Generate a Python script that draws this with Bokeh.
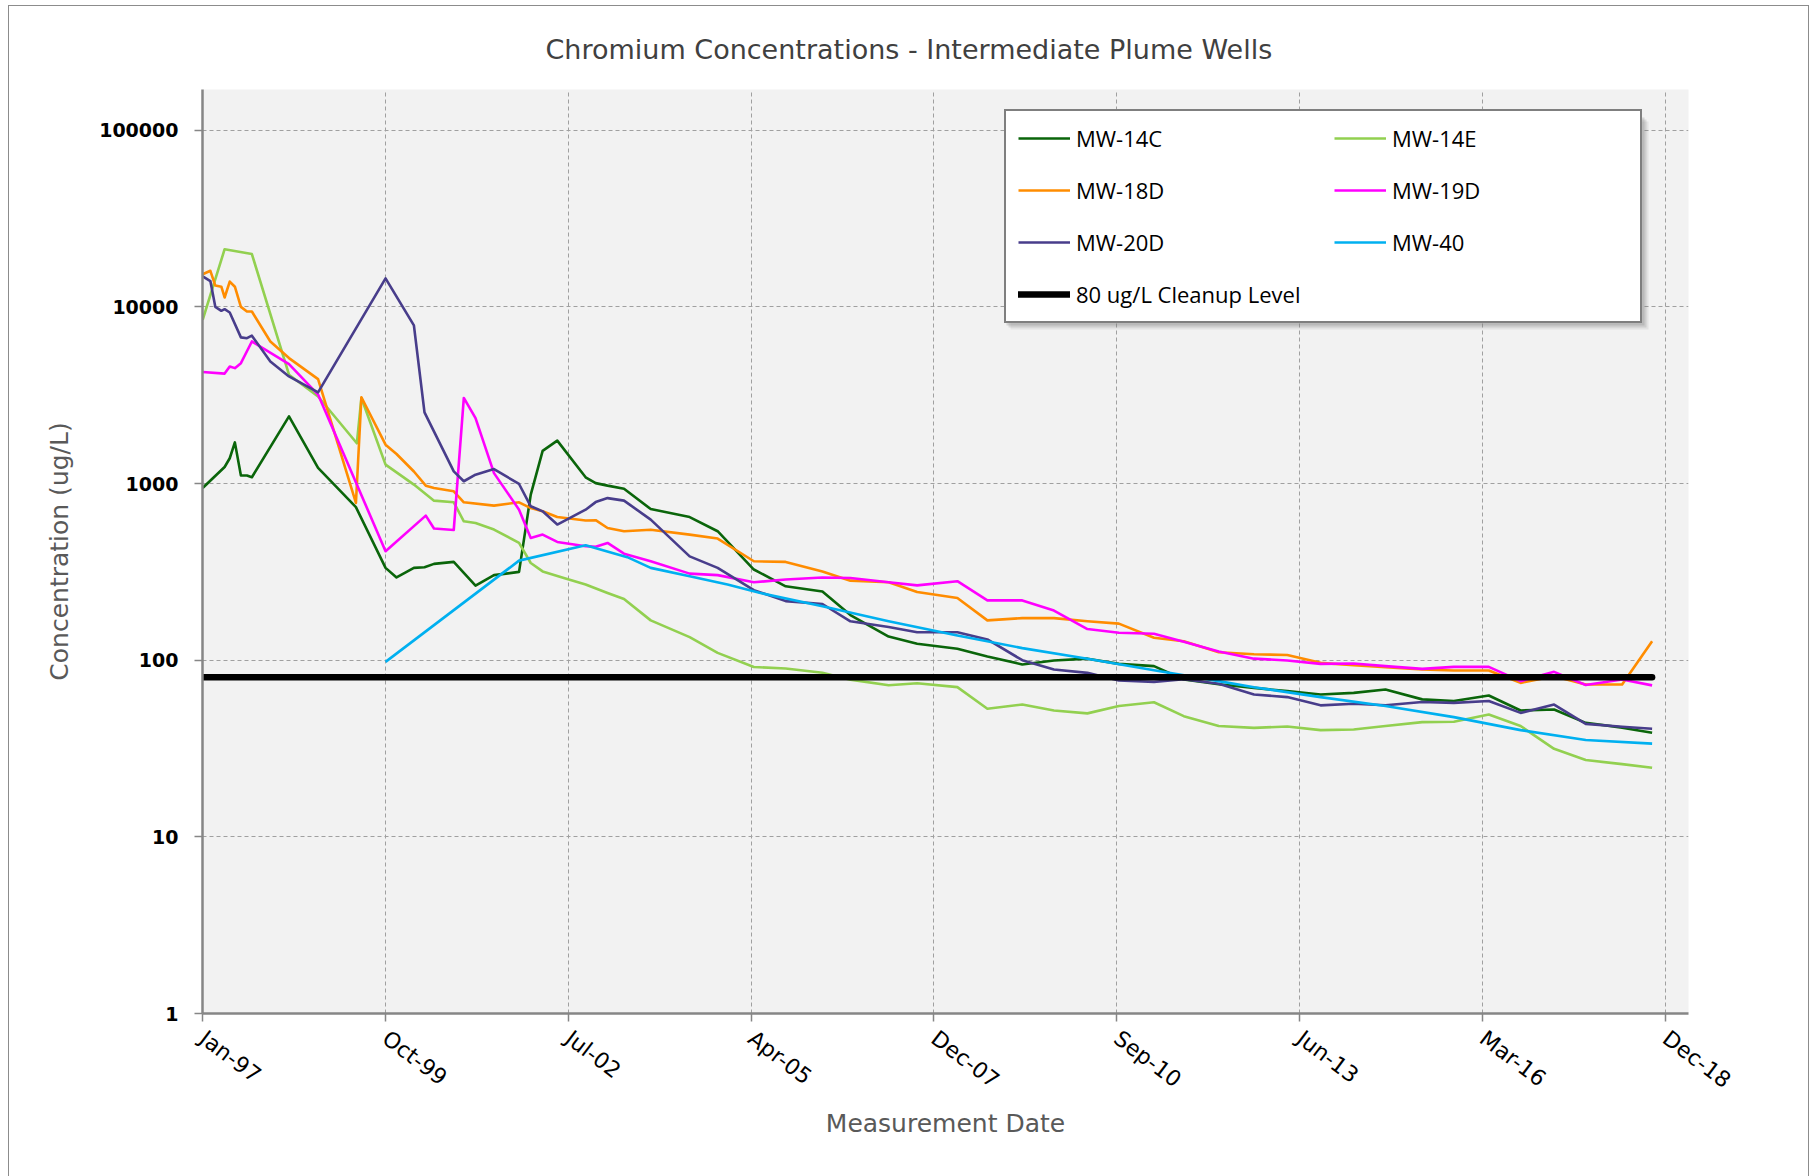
import pandas as pd
from bokeh.plotting import figure
from bokeh.models import (Range1d, FixedTicker, Legend, LegendItem, Title, BoxAnnotation,
                          DatetimeTickFormatter, NumeralTickFormatter)
from bokeh.embed import file_html
from bokeh.resources import INLINE

# ---------------- data ----------------
SA = ["2005-04-17", "2005-10-08", "2006-04-27", "2006-09-27", "2007-04-24", "2007-09-27",
      "2008-05-04", "2008-10-15", "2009-04-24", "2009-10-14", "2010-04-15", "2010-10-04",
      "2011-04-14", "2011-09-24", "2012-04-02", "2012-10-12", "2013-04-12", "2013-10-11",
      "2014-04-10", "2014-10-01", "2015-04-20", "2015-10-10", "2016-04-18", "2016-10-09",
      "2017-04-10", "2017-09-30", "2018-04-17", "2018-09-28"]

mw14c_dates = ["1997-01-15", "1997-05-15", "1997-06-12", "1997-07-10", "1997-08-12", "1997-09-14",
               "1997-10-11", "1998-05-02", "1998-10-08", "1999-05-03", "1999-10-12", "1999-12-11",
               "2000-03-15", "2000-05-12", "2000-07-03", "2000-10-19", "2000-12-13", "2001-02-15",
               "2001-05-27", "2001-10-11", "2001-12-14", "2002-02-17", "2002-05-08", "2002-10-10",
               "2002-12-04", "2003-02-07", "2003-05-08", "2003-10-01", "2004-05-01", "2004-10-01"] + SA
mw14c_vals = [944, 1240, 1390, 1710, 1110, 1110, 1085, 2400, 1225, 735, 333, 294,
              333, 336, 351, 360, 312, 264, 303, 316, 865, 1530, 1750, 1085,
              1005, 973, 935, 717, 646, 537,
              326, 262, 245, 180, 136, 124, 116, 105, 94.6, 99.6, 102, 95.3, 92.5, 77.8,
              73, 69.7, 66.8, 64, 65.3, 68.2, 60, 58.7, 63.1, 51.9, 52.6, 44.2, 41.5, 38.8]

mw14e_dates = ["1997-01-15", "1997-05-15", "1997-10-11", "1998-05-02", "1998-10-08", "1999-05-08",
               "1999-06-02", "1999-10-12", "2000-03-15", "2000-07-03", "2000-10-19", "2000-12-13",
               "2001-02-15", "2001-05-27", "2001-10-11", "2001-12-14", "2002-02-17", "2002-06-13",
               "2002-10-10", "2003-02-07", "2003-05-08", "2003-10-01", "2004-05-01", "2004-10-01"] + SA
mw14e_vals = [8450, 21200, 19900, 4130, 3110, 1690, 3050, 1280, 986, 800, 783, 611,
              598, 549, 461, 355, 318, 292, 268, 240, 222, 168, 135, 110,
              91.5, 89.7, 84.8, 77.6, 72.2, 74.1, 70.4, 53.1, 56.1, 51.9, 50, 55, 57.8, 48.2,
              42.4, 41.4, 42.1, 40.2, 40.5, 42.4, 44.6, 44.8, 49.3, 42.4, 31.5, 27.2, 25.8, 24.6]

mw18d_dates = ["1997-01-15", "1997-02-26", "1997-03-25", "1997-04-27", "1997-05-15", "1997-06-12",
               "1997-07-10", "1997-08-12", "1997-09-14", "1997-10-11", "1998-01-20", "1998-05-02",
               "1998-10-08", "1999-05-03", "1999-06-02", "1999-10-12", "1999-12-11", "2000-03-15",
               "2000-05-19", "2000-07-03", "2000-10-19", "2000-12-13", "2001-05-27", "2001-10-11",
               "2001-12-14", "2002-02-17", "2002-05-08", "2002-10-10", "2002-12-04", "2003-02-07",
               "2003-05-08", "2003-10-01", "2004-05-01", "2004-10-01"] + SA
mw18d_vals = [15300, 16000, 13200, 13000, 11300, 13900, 13000, 10000, 9420, 9420, 6370, 5130,
              3900, 776, 3080, 1660, 1470, 1170, 973, 944, 904, 783, 750, 783,
              726, 696, 647, 617, 620, 560, 537, 548, 514, 488,
              363, 360, 318, 282, 276, 243, 225, 168, 173, 173, 166, 161, 134, 128,
              111, 108, 107, 96.6, 93.7, 91.3, 88.5, 87.4, 87.4, 74.4, 81.2, 72.8, 72.8, 128]

mw19d_dates = ["1997-01-15", "1997-05-15", "1997-06-12", "1997-07-10", "1997-08-12", "1997-10-11",
               "1998-05-02", "1998-10-08", "1999-10-12", "2000-05-19", "2000-07-03", "2000-10-19",
               "2000-12-13", "2001-02-15", "2001-05-27", "2001-10-11", "2001-12-14", "2002-02-17",
               "2002-05-08", "2002-10-10", "2002-12-04", "2003-02-07", "2003-05-08", "2003-10-01",
               "2004-05-01", "2004-10-01"] + SA
mw19d_vals = [4280, 4190, 4600, 4500, 4800, 6370, 4740, 3190, 414, 658, 556, 546,
              3050, 2345, 1145, 711, 492, 514, 467, 442, 439, 461, 401, 363, 309, 303,
              276, 286, 294, 292, 276, 265, 280, 218, 218, 191, 150, 143, 141, 127,
              112, 102, 99.6, 95.3, 95.8, 92.5, 89.3, 91.7, 91.7, 76.1, 85.9, 72.3, 77.8, 72]

mw20d_dates = ["1997-01-15", "1997-02-26", "1997-03-25", "1997-04-27", "1997-05-15", "1997-06-12",
               "1997-08-12", "1997-09-14", "1997-10-11", "1998-01-20", "1998-05-02", "1998-10-08",
               "1999-10-12", "2000-03-15", "2000-05-12", "2000-10-19", "2000-12-13", "2001-02-15",
               "2001-05-27", "2001-10-11", "2001-12-14", "2002-02-17", "2002-05-08", "2002-10-10",
               "2002-12-04", "2003-02-07", "2003-05-08", "2003-10-01", "2004-05-01", "2004-10-01"] + SA
mw20d_vals = [14900, 14000, 10000, 9500, 9700, 9290, 6720, 6650, 6870, 4910, 4040, 3280,
              14500, 7850, 2530, 1172, 1030, 1122, 1208, 994, 743, 696, 586, 711,
              785, 827, 800, 625, 387, 333,
              249, 216, 208, 166, 154, 144, 144, 131, 100, 88.5, 84.8, 76.7, 75.4, 78,
              73.5, 64, 61.8, 55.5, 56.7, 55.6, 58, 57.3, 58.7, 50.3, 56.1, 43.6, 42, 40.9]

mw40_dates = ["1999-10-12", "2001-10-11", "2002-10-10", "2003-05-26", "2003-10-01", "2004-05-01",
              "2004-11-24", "2005-05-23", "2006-04-27", "2007-04-24", "2008-05-04", "2009-04-24",
              "2010-04-15", "2011-04-14", "2012-04-02", "2012-10-12", "2013-10-11", "2014-10-01",
              "2015-10-10", "2016-10-09", "2017-09-30", "2018-09-28"]
mw40_vals = [97.8, 366, 447, 383, 333, 299, 268, 240, 202, 166, 138, 117,
             102, 87.8, 76.1, 70.3, 61.8, 55, 47.6, 40.2, 35.3, 33.7]

cleanup_dates = ["1997-01-15", "2018-09-28"]
cleanup_vals = [80, 80]

x_tick_dates = ["1997-01-14", "1999-10-11", "2002-07-07", "2005-04-02", "2007-12-28",
                "2010-09-23", "2013-06-19", "2016-03-15", "2018-12-10"]
x_tick_labels = ["Jan-97", "Oct-99", "Jul-02", "Apr-05", "Dec-07",
                 "Sep-10", "Jun-13", "Mar-16", "Dec-18"]
y_ticks = [1, 10, 100, 1000, 10000, 100000]
y_tick_labels = ["1", "10", "100", "1000", "10000", "100000"]

series_names = ["MW-14C", "MW-14E", "MW-18D", "MW-19D", "MW-20D", "MW-40"]
series_colors = ["#0A650A", "#92D050", "#FF8C00", "#FF00FF", "#483D8B", "#00B0F0"]


def to_dt(strings):
    return pd.to_datetime(strings)


def to_ms(s):
    return float((pd.Timestamp(s) - pd.Timestamp("1970-01-01")) // pd.Timedelta("1ms"))


# ---------------- figure ----------------
x_start = pd.Timestamp("1997-01-14")
x_end = x_start + pd.Timedelta(days=8126)

p = figure(x_axis_type="datetime", y_axis_type="log",
           frame_width=1486, frame_height=924,
           min_border_left=193, min_border_right=120,
           min_border_top=82, min_border_bottom=163,
           x_range=Range1d(x_start, x_end), y_range=Range1d(1, 170000),
           output_backend="svg", toolbar_location=None,
           background_fill_color="#F2F2F2", border_fill_color="white")
p.outline_line_color = None
p.styles = {"border": "1px solid #8c8c8c", "margin-left": "8px", "margin-top": "5px"}

title = Title(text="Chromium Concentrations - Intermediate Plume Wells",
              align="left", offset=343, standoff=50,
              text_font="DejaVu Sans", text_font_size="27px",
              text_font_style="normal", text_color="#404040")
p.add_layout(title, "above")

# axes
tick_ms = [to_ms(d) for d in x_tick_dates]
p.xaxis.ticker = FixedTicker(ticks=tick_ms)
p.xaxis.formatter = DatetimeTickFormatter(days="%b-%y", months="%b-%y", years="%b-%y")
p.xaxis.major_label_overrides = {t: l for t, l in zip(tick_ms, x_tick_labels)}
p.xaxis.major_label_orientation = -0.65
p.yaxis.ticker = FixedTicker(ticks=y_ticks)
p.yaxis.formatter = NumeralTickFormatter(format="0")
p.yaxis.major_label_overrides = {t: l for t, l in zip(y_ticks, y_tick_labels)}

for ax in (p.xaxis[0], p.yaxis[0]):
    ax.axis_line_color = "#868686"
    ax.axis_line_width = 2.5
    ax.major_tick_line_color = "#868686"
    ax.major_tick_line_width = 1.5
    ax.major_tick_in = 0
    ax.major_tick_out = 8
    ax.minor_tick_line_color = None
    ax.major_label_text_color = "#000000"
    ax.axis_label_text_font = "DejaVu Sans"
    ax.axis_label_text_font_size = "25px"
    ax.axis_label_text_font_style = "normal"
    ax.axis_label_text_color = "#595959"

p.yaxis.major_label_text_font = "DejaVu Sans"
p.yaxis.major_label_text_font_size = "19px"
p.yaxis.major_label_text_font_style = "bold"
p.yaxis.major_label_standoff = 16
p.yaxis.axis_label = "Concentration (ug/L)"
p.yaxis.axis_label_standoff = 22

p.xaxis.major_label_text_font = "DejaVu Sans"
p.xaxis.major_label_text_font_size = "22px"
p.xaxis.major_label_standoff = 14
p.xaxis.axis_label = "Measurement Date"
p.xaxis.axis_label_standoff = 3

# grid
for g in (p.xgrid[0], p.ygrid[0]):
    g.grid_line_color = "#A0A0A0"
    g.grid_line_dash = "4 3"
    g.grid_line_width = 1
p.xgrid.ticker = FixedTicker(ticks=tick_ms)
p.ygrid.ticker = FixedTicker(ticks=y_ticks)

# lines
all_dates = [mw14c_dates, mw14e_dates, mw18d_dates, mw19d_dates, mw20d_dates, mw40_dates]
all_vals = [mw14c_vals, mw14e_vals, mw18d_vals, mw19d_vals, mw20d_vals, mw40_vals]
renderers = []
for d, v, c in zip(all_dates, all_vals, series_colors):
    r = p.line(to_dt(d), v, line_color=c, line_width=2.6, line_join="round")
    renderers.append(r)
r_clean = p.line(to_dt(cleanup_dates), cleanup_vals, line_color="black",
                 line_width=6.5, line_cap="round")

# soft shadow behind the legend box (screen units, relative to the frame)
for k, a in ((6, 0.12), (4, 0.2), (2, 0.25)):
    p.add_layout(BoxAnnotation(left=802 + k, right=1440 + k, bottom=690 - k, top=898 - k,
                               left_units="screen", right_units="screen",
                               bottom_units="screen", top_units="screen",
                               fill_color="#7f7f7f", fill_alpha=a, line_color=None,
                               level="annotation"))

items = [LegendItem(label=n, renderers=[r]) for n, r in zip(series_names, renderers)]
items.append(LegendItem(label="80 ug/L Cleanup Level", renderers=[r_clean]))
legend = Legend(items=items, orientation="horizontal", ncols=2,
                location=(802, 690),
                border_line_color="black", border_line_width=2,
                background_fill_color="white", background_fill_alpha=1.0,
                padding=12, spacing=22, margin=0,
                glyph_width=52, glyph_height=24, label_standoff=6,
                label_width=236, label_height=24,
                label_text_font="Open Sans", label_text_font_size="22px",
                label_text_color="black")
p.add_layout(legend)

open("out.html", "w").write(file_html(p, INLINE))
